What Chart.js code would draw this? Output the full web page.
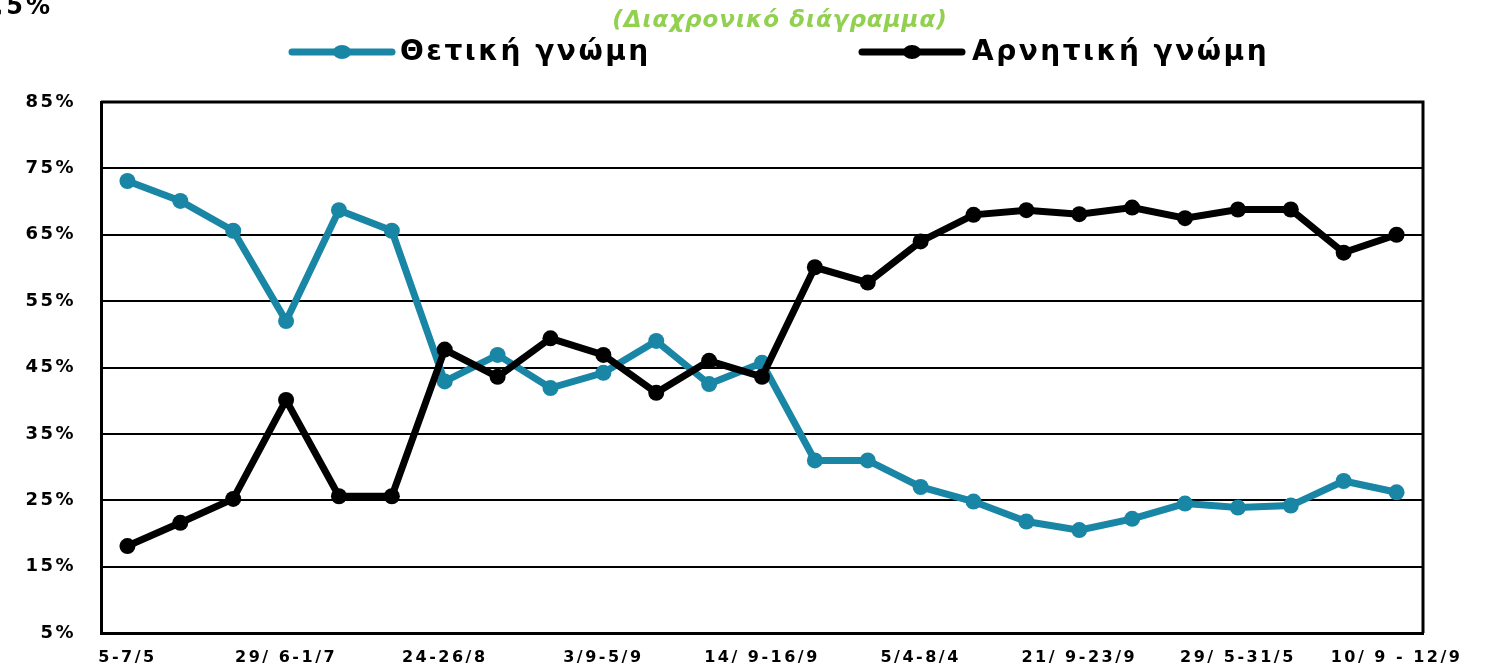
<!DOCTYPE html>
<html>
<head>
<meta charset="utf-8">
<script src="https://cdn.jsdelivr.net/npm/chart.js@4/dist/chart.umd.min.js"></script>
<style>
html,body{margin:0;padding:0;background:#fff;}
#wrap{position:relative;width:1491px;height:670px;}
</style>
</head>
<body>
<div id="wrap"><canvas id="c" width="1491" height="670"></canvas></div>
<script>
const categories = ['5-7/5','','','29/ 6-1/7','','','24-26/8','','','3/9-5/9','','','14/ 9-16/9','','','5/4-8/4','','','21/ 9-23/9','','','29/ 5-31/5','','','10/ 9 - 12/9'];
const positive = [73.1, 70.1, 65.6, 52.0, 68.7, 65.6, 42.9, 46.9, 41.9, 44.2, 49.0, 42.5, 45.7, 31.0, 31.0, 27.0, 24.8, 21.8, 20.5, 22.2, 24.5, 23.9, 24.2, 27.9, 26.2];
const negative = [18.1, 21.6, 25.2, 40.1, 25.6, 25.6, 47.7, 43.6, 49.4, 46.9, 41.2, 46.0, 43.6, 60.1, 57.8, 64.0, 68.0, 68.7, 68.1, 69.1, 67.5, 68.8, 68.8, 62.3, 65.0];
const seriesNames = ['Θετική γνώμη', 'Αρνητική γνώμη'];
const yTicks = [5, 15, 25, 35, 45, 55, 65, 75, 85];
const titleText = '(Διαχρονικό διάγραμμα)';
const cornerText = '5,5%';

const BLUE = '#1986A6';
const BLACK = '#000000';
const FONT = '"DejaVu Sans", sans-serif';

const spacing = {
  id: 'spacing',
  beforeDraw(chart) { chart.ctx.letterSpacing = '2.5px'; }
};

const decor = {
  id: 'decor',
  afterDraw(chart) {
    const ctx = chart.ctx;
    const a = chart.chartArea;
    ctx.save();
    ctx.strokeStyle = '#000';
    ctx.lineWidth = 3;
    ctx.beginPath();
    ctx.moveTo(a.left, a.top);
    ctx.lineTo(a.right, a.top);
    ctx.lineTo(a.right, a.bottom);
    ctx.stroke();
    // corner text
    ctx.letterSpacing = '3px';
    ctx.fillStyle = '#000';
    ctx.font = 'bold 24px ' + FONT;
    ctx.textAlign = 'right';
    ctx.textBaseline = 'alphabetic';
    ctx.fillText(cornerText, 53, 14);
    // title
    ctx.letterSpacing = '1px';
    ctx.fillStyle = '#92D050';
    ctx.font = 'italic bold 23px ' + FONT;
    ctx.textAlign = 'center';
    ctx.textBaseline = 'middle';
    ctx.fillText(titleText, 780, 21);
    // legend
    const items = [{x: 292, tx: 400}, {x: 862, tx: 972}];
    chart.data.datasets.forEach((ds, i) => {
      const it = items[i];
      const y = 52;
      ctx.strokeStyle = ds.borderColor;
      ctx.lineWidth = 7;
      ctx.lineCap = 'round';
      ctx.beginPath();
      ctx.moveTo(it.x, y);
      ctx.lineTo(it.x + 100, y);
      ctx.stroke();
      ctx.fillStyle = ds.borderColor;
      ctx.beginPath();
      ctx.ellipse(it.x + 50, y, 9, 7, 0, 0, Math.PI * 2);
      ctx.fill();
      ctx.letterSpacing = '2.5px';
      ctx.fillStyle = '#000';
      ctx.font = 'bold 28px ' + FONT;
      ctx.textAlign = 'left';
      ctx.textBaseline = 'middle';
      ctx.fillText(ds.label, it.tx, y + 1);
    });
    ctx.restore();
  }
};

new Chart(document.getElementById('c'), {
  type: 'line',
  data: {
    labels: categories,
    datasets: [
      {label: seriesNames[0], data: positive, borderColor: BLUE, backgroundColor: BLUE, borderWidth: 7, pointRadius: 8, pointHoverRadius: 8, pointBackgroundColor: BLUE, pointBorderWidth: 0, tension: 0, order: 2},
      {label: seriesNames[1], data: negative, borderColor: BLACK, backgroundColor: BLACK, borderWidth: 7, pointRadius: 8, pointHoverRadius: 8, pointBackgroundColor: BLACK, pointBorderWidth: 0, tension: 0, order: 1}
    ]
  },
  options: {
    responsive: false,
    animation: false,
    layout: {padding: {left: 0, right: 68, top: 102, bottom: 0}},
    plugins: {legend: {display: false}, title: {display: false}, tooltip: {enabled: false}},
    scales: {
      x: {
        offset: true,
        grid: {display: false, drawTicks: false},
        border: {display: true, color: '#000', width: 3},
        ticks: {autoSkip: false, maxRotation: 0, minRotation: 0, color: '#000', padding: 15, font: {family: FONT, weight: 'bold', size: 16}},
        afterFit(s) { s.height = 37; }
      },
      y: {
        min: 5, max: 85,
        afterBuildTicks(s) { s.ticks = yTicks.map(v => ({value: v})); },
        grid: {color: '#000', lineWidth: 2, drawTicks: false},
        border: {display: true, color: '#000', width: 3},
        ticks: {color: '#000', padding: 25, font: {family: FONT, weight: 'bold', size: 18}, callback: v => v + '%'},
        afterFit(s) { s.width = 101; }
      }
    }
  },
  plugins: [spacing, decor]
});
</script>
</body>
</html>
